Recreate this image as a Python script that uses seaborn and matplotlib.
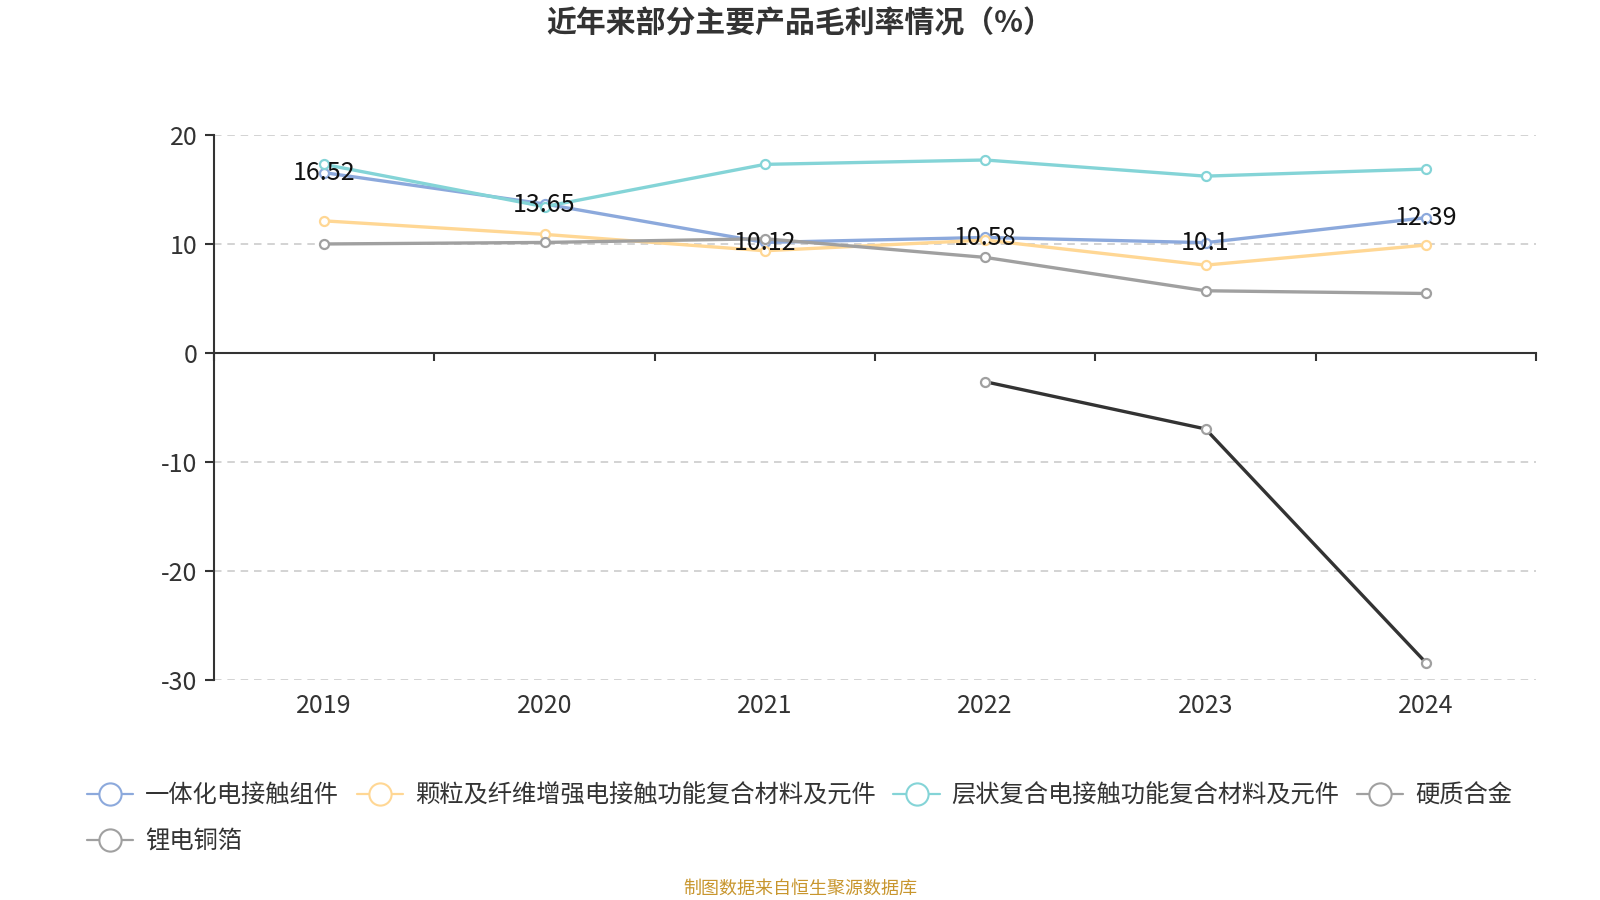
import numpy as np
import pandas as pd
import matplotlib
matplotlib.use("Agg")
import matplotlib.pyplot as plt
from matplotlib.lines import Line2D
import seaborn as sns

# ---------------- data ----------------
years = [2019, 2020, 2021, 2022, 2023, 2024]
series_names = ["一体化电接触组件", "颗粒及纤维增强电接触功能复合材料及元件",
                "层状复合电接触功能复合材料及元件", "硬质合金", "锂电铜箔"]
integrated = [16.52, 13.65, 10.12, 10.58, 10.1, 12.39]
particle = [12.1, 10.86, 9.36, 10.34, 8.04, 9.88]
layered = [17.28, 13.4, 17.28, 17.68, 16.2, 16.85]
carbide = [9.98, 10.12, 10.46, 8.75, 5.69, 5.44]
copper_foil = [np.nan, np.nan, np.nan, -2.65, -6.98, -28.4]
y_ticks = [-30, -20, -10, 0, 10, 20]
title = "近年来部分主要产品毛利率情况（%）"
footer = "制图数据来自恒生聚源数据库"

values = [integrated, particle, layered, carbide, copper_foil]
colors = ["#8CA9DC", "#FFD794", "#84D4D7", "#A0A0A0", "#A0A0A0"]
line_colors = ["#8CA9DC", "#FFD794", "#84D4D7", "#A0A0A0", "#333333"]

sns.set_theme(style="white")
plt.rcParams["font.family"] = ["Noto Sans CJK SC", "DejaVu Sans"]
plt.rcParams["axes.unicode_minus"] = False

fig = plt.figure(figsize=(16, 9), dpi=100)
ax = fig.add_axes([214 / 1600, 1 - 680 / 900, (1536 - 214) / 1600, (680 - 134.7) / 900])

for name, vals, lc, mc in zip(series_names, values, line_colors, colors):
    df = pd.DataFrame({"year": years, "value": vals}).dropna()
    sns.lineplot(data=df, x="year", y="value", ax=ax, color=lc, lw=2.4,
                 marker="o", ms=6.5, mfc="white", mec=mc, mew=1.6,
                 estimator=None, legend=False, zorder=3)

# data labels for first series
for x, v in zip(years, integrated):
    ax.annotate(f"{v:g}", (x, v), xytext=(0, -5.5), textcoords="offset points",
                ha="center", va="baseline", fontsize=18, color="#111111", zorder=5)

ax.set_xlim(years[0] - 0.5, years[-1] + 0.5)
ax.set_ylim(y_ticks[0], y_ticks[-1])
ax.set_yticks(y_ticks)
ax.set_yticklabels([str(t) for t in y_ticks])
ax.set_xlabel("")
ax.set_ylabel("")

# x axis line at y=0 with boundary ticks
ax.spines["bottom"].set_position(("data", 0))
ax.spines["bottom"].set_color("#333333")
ax.spines["bottom"].set_linewidth(1.5)
ax.spines["left"].set_color("#333333")
ax.spines["left"].set_linewidth(1.5)
ax.spines["top"].set_visible(False)
ax.spines["right"].set_visible(False)
ax.set_xticks(np.arange(years[0] - 0.5, years[-1] + 1.0, 1.0))
ax.set_xticklabels([])
ax.tick_params(axis="x", which="major", bottom=True, length=6, width=1.5,
               color="#333333", direction="out")
ax.tick_params(axis="y", left=True, length=6.5, width=1.5, color="#333333",
               pad=5.5, labelsize=18, labelcolor="#333333")

ax.yaxis.grid(True, linestyle=(0, (4.5, 3.5)), color="#CCCCCC", lw=1.2)
ax.xaxis.grid(False)
ax.set_axisbelow(True)

# year labels at bottom
sec = ax.secondary_xaxis("bottom")
sec.set_xticks(years)
sec.set_xticklabels([str(y) for y in years])
sec.tick_params(length=0, pad=9.5, labelsize=18, labelcolor="#333333")
sec.spines["bottom"].set_visible(False)

# legend
handles = [Line2D([], [], color=c, lw=1.6, marker="o", ms=16, mfc="white",
                  mec=c, mew=1.5) for c in colors]
order = [0, 4, 1, 2, 3]
leg = fig.legend([handles[i] for i in order], [series_names[i] for i in order],
                 loc="upper left", bbox_to_anchor=(87 / 1600, 1 - 783 / 900),
                 ncol=4, frameon=False, fontsize=17.5, borderpad=0,
                 handlelength=1.9, handletextpad=0.5, columnspacing=0.72,
                 labelspacing=0.8, borderaxespad=0)
for t in leg.get_texts():
    t.set_color("#333333")

fig.text(0.5, 1 - 24 / 900, title, ha="center", va="center",
         fontsize=21.5, fontweight="bold", color="#333333")
fig.text(0.5, 1 - 889 / 900, footer, ha="center", va="center",
         fontsize=13, color="#C8962E")

fig.savefig("out.png", dpi=100)
